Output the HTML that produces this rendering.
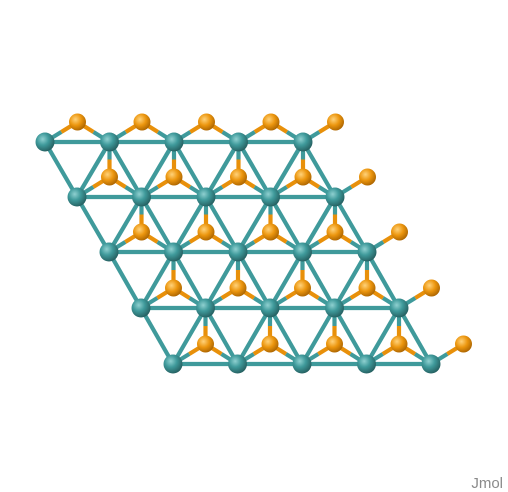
<!DOCTYPE html>
<html><head><meta charset="utf-8"><style>
html,body{margin:0;padding:0;background:#fff;}
svg{display:block;}
</style></head><body>
<svg id="mol" width="508" height="492" viewBox="0 0 508 492" xmlns="http://www.w3.org/2000/svg">
<defs>
<radialGradient id="gT" cx="0.38" cy="0.35" r="0.7"><stop offset="0" stop-color="#8fd0d0"/><stop offset="0.45" stop-color="#3f9a9b"/><stop offset="1" stop-color="#245c5d"/></radialGradient>
<radialGradient id="gO" cx="0.38" cy="0.35" r="0.7"><stop offset="0" stop-color="#ffd27a"/><stop offset="0.5" stop-color="#ec960e"/><stop offset="1" stop-color="#a86200"/></radialGradient>
</defs>
<g id="bonds"></g>
<g id="atoms"></g>
<text x="503" y="488" text-anchor="end" font-family="Liberation Sans, sans-serif" font-size="15" fill="#8a8a8a">Jmol</text>
</svg>
<script>
const rowY=[142,197,252,308,364];
const rowX0=[45,77,109,141,173];
const colCount=5;
const dx=64.5;
const NS='http://www.w3.org/2000/svg';
const B=document.getElementById('bonds'),A=document.getElementById('atoms');
function T(r,i){return [rowX0[r]+i*dx,rowY[r]];}
function O(r,i){const t=T(r,i);return [t[0]+32.5,t[1]-20];}
function line(p,q,c){const l=document.createElementNS(NS,'line');
l.setAttribute('x1',p[0]);l.setAttribute('y1',p[1]);l.setAttribute('x2',q[0]);l.setAttribute('y2',q[1]);
l.setAttribute('stroke',c);l.setAttribute('stroke-width',4.2);


B.appendChild(l);}
function halfBond(p,q,c1,c2){const m=[(p[0]+q[0])/2,(p[1]+q[1])/2];line(p,m,c1);line(m,q,c2);}
const TC='#3f9a9b',OC='#e8900a';
for(let r=0;r<5;r++)for(let i=0;i<colCount;i++){
 const t=T(r,i);
 if(i<colCount-1)line(t,T(r,i+1),TC);
 if(r<4){line(t,T(r+1,i),TC);if(i>0)line(t,T(r+1,i-1),TC);}
 const o=O(r,i);
 halfBond(o,t,OC,TC);
 if(i<colCount-1)halfBond(o,T(r,i+1),OC,TC);
 if(r>0&&i<colCount-1)halfBond(o,T(r-1,i+1),OC,TC);
}
function atom(p,rad,g,name){const c=document.createElementNS(NS,'circle');
c.setAttribute('cx',p[0]);c.setAttribute('cy',p[1]);c.setAttribute('r',rad);c.setAttribute('fill','url(#'+g+')');


A.appendChild(c);}
for(let r=0;r<5;r++)for(let i=0;i<colCount;i++)atom(O(r,i),8.5,'gO','sulfur-atom');
for(let r=0;r<5;r++)for(let i=0;i<colCount;i++)atom(T(r,i),9.5,'gT','metal-atom');
</script>
</body></html>
